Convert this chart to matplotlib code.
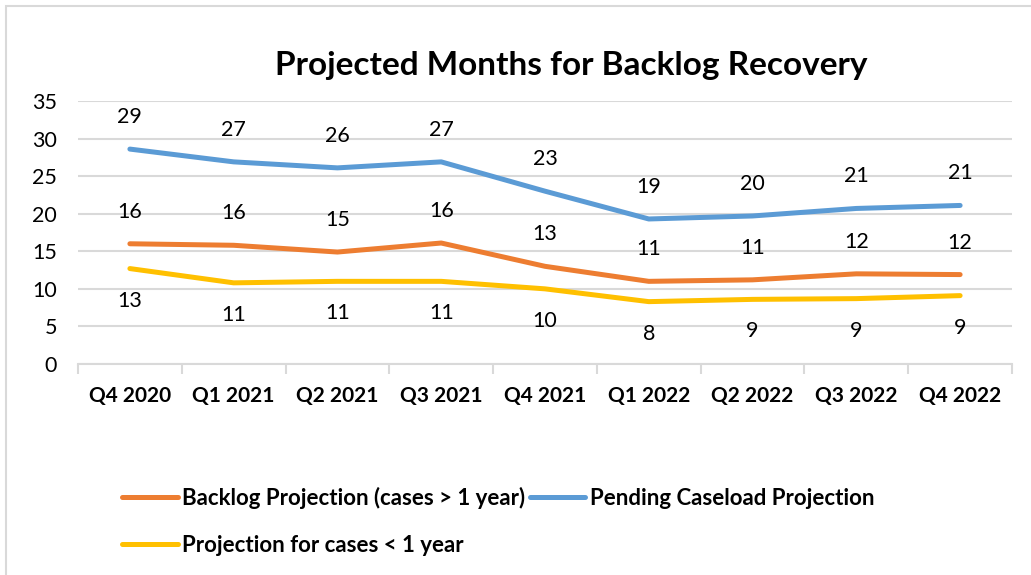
import matplotlib.pyplot as plt
from matplotlib.patches import Rectangle

# quarters on the x axis
quarters = ["Q4 2020", "Q1 2021", "Q2 2021", "Q3 2021", "Q4 2021",
            "Q1 2022", "Q2 2022", "Q3 2022", "Q4 2022"]

# projected months
backlog = [16.0, 15.8, 14.9, 16.1, 13.0, 11.0, 11.2, 12.0, 11.9]
pending = [28.6, 26.9, 26.1, 26.9, 23.0, 19.3, 19.7, 20.7, 21.1]
under_year = [12.7, 10.8, 11.0, 11.0, 10.0, 8.3, 8.6, 8.7, 9.1]

series_names = ["Backlog Projection (cases > 1 year)",
                "Pending Caseload Projection",
                "Projection for cases < 1 year"]

orange = "#ED7D31"
blue = "#5B9BD5"
yellow = "#FFC000"
grid_col = "#D9D9D9"

plt.rcParams['font.family'] = ['Lato', 'DejaVu Sans']

W, H = 1031, 575
fig = plt.figure(figsize=(W / 100, H / 100), dpi=100)
fig.patch.set_facecolor("white")

# chart border (right and bottom edges fall outside the crop)
fig.patches.append(Rectangle((6 / W, -0.1), 1.2, 1 - 6 / H + 0.1,
                             transform=fig.transFigure, fill=False,
                             edgecolor=grid_col, linewidth=1.5))

ax = fig.add_axes([78 / W, 1 - 364 / H, 934 / W, 263 / H])
x = list(range(len(quarters)))

l_orange, = ax.plot(x, backlog, color=orange, lw=3.6, solid_capstyle='round', zorder=3)
l_blue, = ax.plot(x, pending, color=blue, lw=3.6, solid_capstyle='round', zorder=3)
l_yellow, = ax.plot(x, under_year, color=yellow, lw=3.6, solid_capstyle='round', zorder=3)

# data labels
for i in x:
    ax.annotate(f"{round(pending[i])}", (i, pending[i]), xytext=(0, 32),
                textcoords='offset pixels', ha='center', va='center', fontsize=15.5)
    ax.annotate(f"{round(backlog[i])}", (i, backlog[i]), xytext=(0, 32),
                textcoords='offset pixels', ha='center', va='center', fontsize=15.5)
    ax.annotate(f"{round(under_year[i])}", (i, under_year[i]), xytext=(0, -32),
                textcoords='offset pixels', ha='center', va='center', fontsize=15.5)

ax.set_xlim(-0.5, len(quarters) - 0.5)
ax.set_ylim(0, 35)
ax.set_yticks(range(0, 36, 5))
ax.tick_params(axis='y', length=0, pad=15, labelsize=15.5)
ax.set_xticks(x)
ax.set_xticklabels(quarters, fontsize=15, fontweight='bold')
ax.set_xticks([i - 0.5 for i in range(len(quarters) + 1)], minor=True)
ax.tick_params(axis='x', which='major', length=0, pad=16)
ax.tick_params(axis='x', which='minor', length=7, width=1.5, color=grid_col)

ax.grid(axis='y', color=grid_col, linewidth=1.5, zorder=0)
ax.set_axisbelow(True)
for s in ['top', 'right', 'left']:
    ax.spines[s].set_visible(False)
ax.spines['bottom'].set_color(grid_col)
ax.spines['bottom'].set_linewidth(1.5)

fig.text(571 / W, 1 - 66 / H, "Projected Months for Backlog Recovery",
         ha='center', va='center', fontsize=24, fontweight='bold')

fig.legend([l_orange, l_yellow, l_blue],
           [series_names[0], series_names[2], series_names[1]],
           ncol=2, loc='upper left', bbox_to_anchor=(122 / W, 1 - 487 / H),
           frameon=False, prop={'size': 16, 'weight': 'bold'},
           handlelength=2.5, handletextpad=0.2, columnspacing=0.2,
           labelspacing=1.15, borderaxespad=0, borderpad=0)

fig.savefig("out.png", dpi=100)
